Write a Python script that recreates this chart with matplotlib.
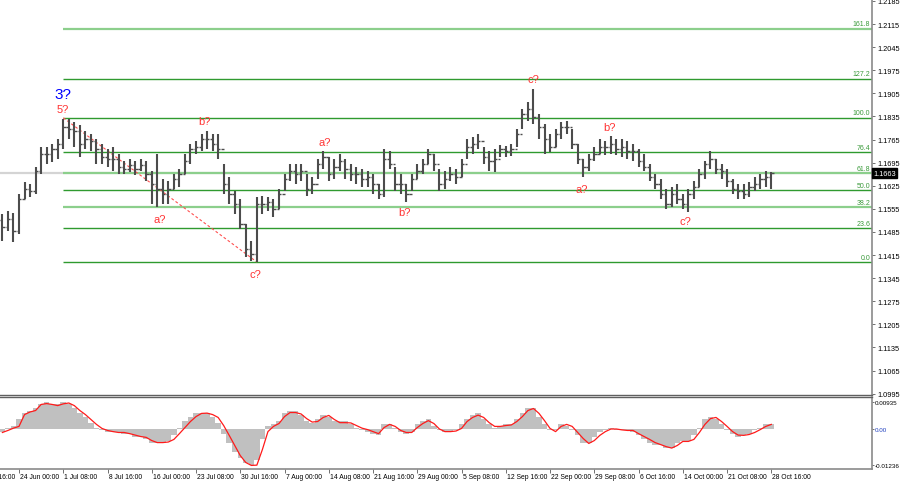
import matplotlib
matplotlib.use("Agg")
import matplotlib.pyplot as plt
import matplotlib.transforms as mtransforms
from matplotlib import font_manager
import numpy as np

plt.rcParams["font.family"] = ["Liberation Sans", "DejaVu Sans"]
names = {f.name for f in font_manager.fontManager.ttflist}
AXIS_FONT = ["Liberation Sans Narrow"] if "Liberation Sans Narrow" in names else ["Liberation Sans"]

# EURUSD H4 - one sampled bar every 4 H4 bars, first sample sits on bar 2
BAR_STEP = 4
FIRST_BAR = 2

highs = [1.1540, 1.1549, 1.1543, 1.1600, 1.1636, 1.1630, 1.1682, 1.1743, 1.1743, 1.1752,
         1.1767, 1.1828, 1.1828, 1.1818, 1.1809, 1.1791, 1.1782, 1.1767, 1.1752, 1.1737,
         1.1743, 1.1721, 1.1700, 1.1706, 1.1700, 1.1706, 1.1700, 1.1670, 1.1721, 1.1646,
         1.1640, 1.1661, 1.1676, 1.1721, 1.1752, 1.1761, 1.1782, 1.1791, 1.1782, 1.1782,
         1.1691, 1.1652, 1.1609, 1.1585, 1.1509, 1.1458, 1.1591, 1.1594, 1.1591, 1.1585,
         1.1615, 1.1661, 1.1691, 1.1691, 1.1691, 1.1661, 1.1652, 1.1706, 1.1731, 1.1712,
         1.1706, 1.1721, 1.1706, 1.1691, 1.1682, 1.1676, 1.1670, 1.1661, 1.1630, 1.1737,
         1.1731, 1.1682, 1.1661, 1.1630, 1.1661, 1.1691, 1.1706, 1.1737, 1.1721, 1.1676,
         1.1670, 1.1682, 1.1676, 1.1706, 1.1767, 1.1773, 1.1782, 1.1743, 1.1731, 1.1737,
         1.1749, 1.1746, 1.1752, 1.1797, 1.1858, 1.1879, 1.1918, 1.1843, 1.1812, 1.1782,
         1.1797, 1.1818, 1.1822, 1.1797, 1.1752, 1.1706, 1.1721, 1.1743, 1.1767, 1.1761,
         1.1776, 1.1767, 1.1767, 1.1761, 1.1752, 1.1737, 1.1721, 1.1691, 1.1661, 1.1646,
         1.1615, 1.1621, 1.1630, 1.1600, 1.1615, 1.1640, 1.1676, 1.1700, 1.1731, 1.1706,
         1.1691, 1.1676, 1.1646, 1.1630, 1.1630, 1.1636, 1.1652, 1.1661, 1.1670, 1.1667]

lows = [1.1458, 1.1488, 1.1455, 1.1479, 1.1585, 1.1591, 1.1600, 1.1661, 1.1691, 1.1697,
        1.1706, 1.1737, 1.1767, 1.1743, 1.1712, 1.1737, 1.1731, 1.1691, 1.1691, 1.1682,
        1.1670, 1.1661, 1.1661, 1.1667, 1.1658, 1.1670, 1.1640, 1.1570, 1.1561, 1.1570,
        1.1570, 1.1615, 1.1621, 1.1661, 1.1691, 1.1721, 1.1731, 1.1737, 1.1731, 1.1706,
        1.1600, 1.1570, 1.1540, 1.1494, 1.1409, 1.1397, 1.1394, 1.1540, 1.1549, 1.1531,
        1.1555, 1.1609, 1.1640, 1.1630, 1.1640, 1.1594, 1.1600, 1.1646, 1.1676, 1.1640,
        1.1646, 1.1670, 1.1646, 1.1640, 1.1630, 1.1621, 1.1621, 1.1600, 1.1585, 1.1591,
        1.1676, 1.1609, 1.1600, 1.1576, 1.1609, 1.1646, 1.1661, 1.1691, 1.1670, 1.1609,
        1.1615, 1.1640, 1.1630, 1.1652, 1.1706, 1.1721, 1.1737, 1.1691, 1.1670, 1.1667,
        1.1712, 1.1712, 1.1715, 1.1743, 1.1797, 1.1822, 1.1812, 1.1767, 1.1721, 1.1727,
        1.1743, 1.1767, 1.1782, 1.1737, 1.1691, 1.1652, 1.1670, 1.1700, 1.1721, 1.1718,
        1.1721, 1.1718, 1.1712, 1.1706, 1.1700, 1.1682, 1.1670, 1.1640, 1.1615, 1.1585,
        1.1555, 1.1561, 1.1570, 1.1555, 1.1546, 1.1585, 1.1621, 1.1646, 1.1676, 1.1661,
        1.1646, 1.1621, 1.1600, 1.1585, 1.1585, 1.1591, 1.1609, 1.1615, 1.1621, 1.1615]

closes = [1.1500, 1.1525, 1.1488, 1.1585, 1.1615, 1.1609, 1.1670, 1.1721, 1.1721, 1.1737,
          1.1752, 1.1803, 1.1797, 1.1791, 1.1752, 1.1767, 1.1761, 1.1737, 1.1712, 1.1706,
          1.1706, 1.1682, 1.1676, 1.1688, 1.1676, 1.1688, 1.1661, 1.1630, 1.1615, 1.1600,
          1.1615, 1.1646, 1.1661, 1.1700, 1.1737, 1.1743, 1.1767, 1.1767, 1.1752, 1.1737,
          1.1630, 1.1600, 1.1570, 1.1509, 1.1434, 1.1418, 1.1570, 1.1570, 1.1576, 1.1555,
          1.1600, 1.1646, 1.1670, 1.1661, 1.1670, 1.1615, 1.1630, 1.1691, 1.1712, 1.1661,
          1.1682, 1.1700, 1.1676, 1.1661, 1.1661, 1.1646, 1.1652, 1.1630, 1.1600, 1.1706,
          1.1691, 1.1630, 1.1630, 1.1600, 1.1646, 1.1670, 1.1691, 1.1721, 1.1691, 1.1630,
          1.1646, 1.1661, 1.1652, 1.1691, 1.1743, 1.1752, 1.1761, 1.1712, 1.1700, 1.1706,
          1.1737, 1.1731, 1.1737, 1.1782, 1.1843, 1.1858, 1.1834, 1.1803, 1.1767, 1.1743,
          1.1782, 1.1803, 1.1803, 1.1752, 1.1706, 1.1682, 1.1706, 1.1721, 1.1743, 1.1743,
          1.1752, 1.1737, 1.1743, 1.1731, 1.1731, 1.1700, 1.1682, 1.1652, 1.1630, 1.1600,
          1.1570, 1.1600, 1.1585, 1.1570, 1.1600, 1.1621, 1.1661, 1.1691, 1.1706, 1.1676,
          1.1670, 1.1640, 1.1615, 1.1609, 1.1600, 1.1621, 1.1630, 1.1646, 1.1652, 1.1663]
first_open = 1.1520
last_price = 1.1663

# oscillator (grey histogram + red signal line)
osc_hist = [-0.0009, 0.0005, 0.0012, 0.0033, 0.0057, 0.0064, 0.0074, 0.0088, 0.0092, 0.0088,
            0.0085, 0.0092, 0.0088, 0.0074, 0.0057, 0.0040, 0.0022, 0.0005, -0.0005, -0.0009,
            -0.0012, -0.0012, -0.0016, -0.0019, -0.0026, -0.0029, -0.0036, -0.0047, -0.0050, -0.0047,
            -0.0040, -0.0022, 0.0005, 0.0026, 0.0043, 0.0054, 0.0057, 0.0054, 0.0043, 0.0022,
            -0.0016, -0.0050, -0.0078, -0.0099, -0.0119, -0.0123, -0.0106, -0.0036, 0.0009, 0.0016,
            0.0029, 0.0054, 0.0064, 0.0061, 0.0047, 0.0029, 0.0022, 0.0036, 0.0050, 0.0040,
            0.0026, 0.0026, 0.0026, 0.0016, 0.0005, -0.0002, -0.0009, -0.0016, -0.0022, 0.0019,
            0.0019, 0.0002, -0.0009, -0.0016, -0.0009, 0.0016, 0.0026, 0.0033, 0.0012, -0.0005,
            -0.0012, -0.0009, -0.0002, 0.0016, 0.0036, 0.0047, 0.0054, 0.0033, 0.0016, 0.0005,
            0.0012, 0.0016, 0.0019, 0.0036, 0.0057, 0.0074, 0.0071, 0.0043, 0.0016, -0.0005,
            -0.0002, 0.0016, 0.0012, -0.0002, -0.0022, -0.0047, -0.0050, -0.0029, -0.0012, -0.0002,
            0.0002, -0.0002, -0.0005, -0.0005, -0.0012, -0.0022, -0.0033, -0.0047, -0.0054, -0.0057,
            -0.0064, -0.0064, -0.0047, -0.0040, -0.0043, -0.0022, 0.0005, 0.0033, 0.0043, 0.0036,
            0.0016, -0.0005, -0.0019, -0.0026, -0.0022, -0.0016, -0.0005, 0.0005, 0.0016, 0.0019]

osc_signal = [-0.0012, -0.0005, 0.0003, 0.0009, 0.0050, 0.0059, 0.0064, 0.0085, 0.0088, 0.0085,
              0.0081, 0.0087, 0.0090, 0.0081, 0.0064, 0.0050, 0.0033, 0.0016, 0.0002, -0.0005,
              -0.0009, -0.0012, -0.0012, -0.0016, -0.0021, -0.0026, -0.0029, -0.0040, -0.0047, -0.0047,
              -0.0045, -0.0036, -0.0016, 0.0005, 0.0026, 0.0043, 0.0054, 0.0055, 0.0050, 0.0040,
              0.0012, -0.0022, -0.0057, -0.0092, -0.0116, -0.0126, -0.0125, -0.0071, -0.0009, 0.0009,
              0.0019, 0.0043, 0.0057, 0.0057, 0.0052, 0.0036, 0.0024, 0.0026, 0.0040, 0.0047,
              0.0033, 0.0022, 0.0022, 0.0021, 0.0012, 0.0003, -0.0002, -0.0009, -0.0016, 0.0005,
              0.0016, 0.0009, -0.0005, -0.0012, -0.0012, 0.0005, 0.0019, 0.0029, 0.0019, 0.0000,
              -0.0009, -0.0009, -0.0007, 0.0002, 0.0026, 0.0040, 0.0048, 0.0040, 0.0022, 0.0009,
              0.0009, 0.0012, 0.0014, 0.0026, 0.0043, 0.0064, 0.0071, 0.0054, 0.0029, 0.0002,
              -0.0009, 0.0009, 0.0016, 0.0009, -0.0012, -0.0033, -0.0050, -0.0040, -0.0022, -0.0009,
              0.0000, 0.0000, -0.0003, -0.0005, -0.0005, -0.0016, -0.0026, -0.0036, -0.0047, -0.0054,
              -0.0061, -0.0066, -0.0057, -0.0043, -0.0043, -0.0036, -0.0012, 0.0016, 0.0036, 0.0040,
              0.0026, 0.0009, -0.0009, -0.0021, -0.0022, -0.0019, -0.0012, -0.0002, 0.0009, 0.0016]

price_ticks = [1.0995, 1.1065, 1.1135, 1.1205, 1.1275, 1.1345, 1.1415, 1.1485, 1.1555,
               1.1625, 1.1695, 1.1765, 1.1835, 1.1905, 1.1975, 1.2045, 1.2115, 1.2185]
osc_ticks = [-0.01236, 0.0, 0.00935]
osc_tick_labels = ["-0.01236", "0.00", "0.00935"]

time_labels = ["17 Jun 16:00", "24 Jun 00:00", "1 Jul 08:00", "8 Jul 16:00", "16 Jul 00:00",
               "23 Jul 08:00", "30 Jul 16:00", "7 Aug 00:00", "14 Aug 08:00", "21 Aug 16:00",
               "29 Aug 00:00", "5 Sep 08:00", "12 Sep 16:00", "22 Sep 00:00", "29 Sep 08:00",
               "6 Oct 16:00", "14 Oct 00:00", "21 Oct 08:00", "28 Oct 16:00"]
FIRST_LABEL_BAR = -18   # bar index of "17 Jun 16:00"
LABEL_EVERY = 32        # H4 bars between date labels

# Fibonacci grid, from the 5? top to the c? low
fib_levels = [0.0, 23.6, 38.2, 50.0, 61.8, 76.4, 100.0, 127.2, 161.8]
fib_light = {38.2, 61.8, 161.8}
fib_low = 1.1394
fib_high = 1.1831
fib_start_bar = 46

# wave marks: (text, bar, price, colour)
wave_marks = [("3?", 46, 1.1903, "#0000ff"),
              ("5?", 46, 1.1858, "#ff3333"),
              ("a?", 116, 1.1525, "#ff3333"),
              ("b?", 148, 1.1821, "#ff3333"),
              ("c?", 185, 1.1358, "#ff3333"),
              ("a?", 235, 1.1758, "#ff3333"),
              ("b?", 293, 1.1546, "#ff3333"),
              ("c?", 386, 1.1949, "#ff3333"),
              ("a?", 421, 1.1615, "#ff3333"),
              ("b?", 441, 1.1803, "#ff3333"),
              ("c?", 496, 1.1518, "#ff3333")]

x = FIRST_BAR + BAR_STEP * np.arange(len(closes))
opens = [first_open] + closes[:-1]
XLIM = (0.26, 630.8)

fig = plt.figure(figsize=(9.0, 4.85), dpi=100)
ax = fig.add_axes([0.0, 89 / 485, 872 / 900, 396 / 485])
ax2 = fig.add_axes([0.0, 15 / 485, 872 / 900, 72.5 / 485])
right_tf = mtransforms.blended_transform_factory(ax.transAxes, ax.transData)

# --- price panel ---
ax.axhline(last_price, color="#d4d4d4", lw=1.6, zorder=1)

fib_range = fib_high - fib_low
for lvl in fib_levels:
    p = fib_low + fib_range * lvl / 100.0
    light = lvl in fib_light
    ax.hlines(p, fib_start_bar, 1000, color="#8ccf8c" if light else "#2f9a2f",
              lw=1.6 if light else 1.0, zorder=2)
    ax.text(0.998, p + 0.0004, f"{lvl:.1f}", transform=right_tf, family=AXIS_FONT,
            ha="right", va="bottom", fontsize=5, color="#3a9a3a", zorder=5)

# dashed line 5? -> c?
ax.plot([fib_start_bar, x[int(np.argmin(lows))]], [fib_high, fib_low],
        color="#ff5050", lw=0.8, ls=(0, (2.5, 2)), zorder=3)

bar_col = "#4c4c4c"
ax.vlines(x, lows, highs, color=bar_col, lw=1.5, zorder=4)
ax.hlines(opens, x - 1.7, x, color=bar_col, lw=1.0, zorder=4)
ax.hlines(closes, x, x + 1.7, color=bar_col, lw=1.0, zorder=4)

for txt, b, p, c in wave_marks:
    ax.text(b, p, txt, ha="center", va="center", color=c,
            fontsize=11 if txt == "3?" else 8, zorder=6)

ax.set_ylim(1.0991, 1.2191)
ax.yaxis.tick_right()
ax.set_yticks(price_ticks)
ax.set_yticklabels([f"{t:.4f}" for t in price_ticks], family=AXIS_FONT)
ax.tick_params(axis="y", direction="out", length=2.5, width=0.7, colors="#707070",
               labelcolor="black", labelsize=5.3, pad=1.5)
ax.tick_params(axis="x", bottom=False, labelbottom=False)
for side in ("left", "top"):
    ax.spines[side].set_visible(False)
ax.spines["right"].set_color("#8a8a8a")
ax.spines["right"].set_linewidth(1.2)
ax.spines["bottom"].set_color("#606060")
ax.spines["bottom"].set_linewidth(1.0)
ax.set_xlim(*XLIM)

ax.text(1.0012, last_price, f"{last_price:.4f}", transform=right_tf, family=AXIS_FONT,
        ha="left", va="center", fontsize=5.3, color="white", zorder=7, clip_on=False,
        bbox=dict(boxstyle="square,pad=0.2", fc="black", ec="black"))

# --- oscillator panel ---
ax2.bar(x, osc_hist, width=BAR_STEP, color="#c0c0c0", lw=0, zorder=2)
ax2.plot(x, osc_signal, color="#ff1a1a", lw=0.9, zorder=3)
ax2.set_ylim(-0.01384, 0.01125)
ax2.yaxis.tick_right()
ax2.set_yticks(osc_ticks)
ax2.set_yticklabels(osc_tick_labels, family=AXIS_FONT)
ax2.tick_params(axis="y", direction="out", length=1.5, width=0.7, colors="#707070",
                labelcolor="black", labelsize=4.5, pad=0.8)
ax2.get_yticklabels()[1].set_color("#1f3fbf")

tick_bars = [FIRST_LABEL_BAR + LABEL_EVERY * k for k in range(len(time_labels))]
ax2.set_xticks(tick_bars)
ax2.set_xticklabels([])
ax2.tick_params(axis="x", direction="out", length=3, width=0.7, colors="#707070")
for b, lab in zip(tick_bars, time_labels):
    ax2.text(b + 0.8, -0.1, lab, transform=ax2.get_xaxis_transform(), family=AXIS_FONT,
             ha="left", va="center", fontsize=4.9, color="black", clip_on=False)
ax2.spines["left"].set_visible(False)
ax2.spines["top"].set_color("#606060")
ax2.spines["top"].set_linewidth(1.0)
ax2.spines["right"].set_color("#8a8a8a")
ax2.spines["right"].set_linewidth(1.2)
ax2.spines["bottom"].set_color("#8a8a8a")
ax2.spines["bottom"].set_linewidth(1.2)
ax2.set_xlim(*XLIM)

fig.savefig("out.png", dpi=100)
